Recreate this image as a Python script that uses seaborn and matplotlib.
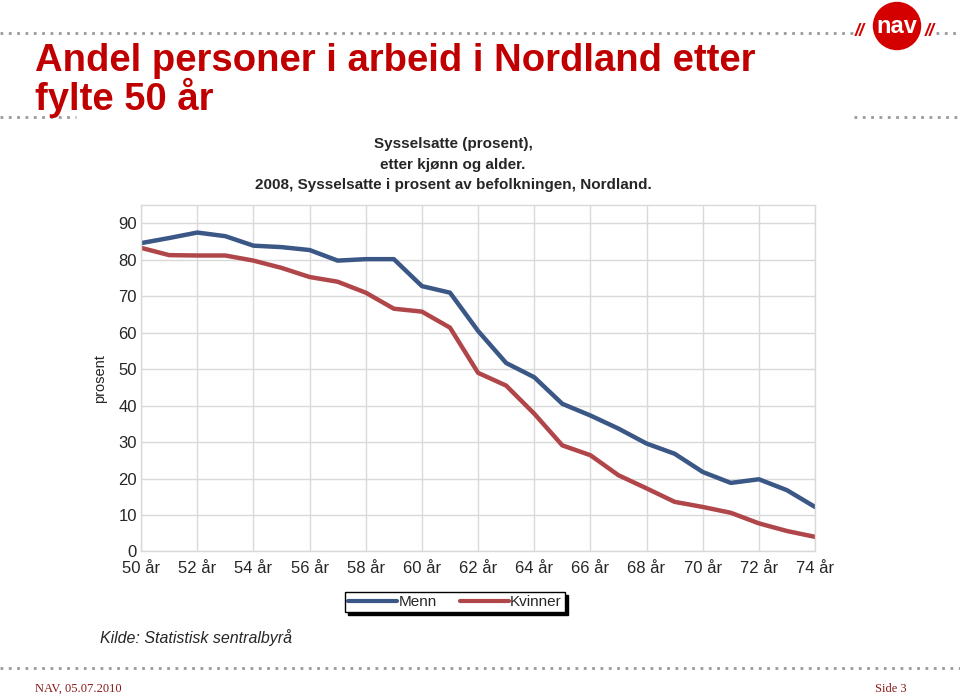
import numpy as np
import pandas as pd
import seaborn as sns
import matplotlib.pyplot as plt
from matplotlib.patches import Circle
from matplotlib.lines import Line2D

# data
alder = list(range(50, 75))
menn = [84.6, 86.0, 87.5, 86.5, 83.9, 83.5, 82.7, 79.8, 80.2, 80.2, 72.8, 71.0, 60.5,
        51.7, 47.8, 40.5, 37.3, 33.7, 29.6, 26.8, 21.8, 18.8, 19.8, 16.8, 12.2]
kvinner = [83.3, 81.3, 81.2, 81.2, 79.8, 77.8, 75.3, 74.0, 71.0, 66.6, 65.8, 61.4, 49.0,
           45.5, 37.8, 29.1, 26.4, 20.9, 17.3, 13.6, 12.2, 10.6, 7.7, 5.6, 4.0]
xticks = list(range(50, 75, 2))
xtick_labels = [f"{a} år" for a in xticks]

df = pd.DataFrame({"alder": alder * 2,
                   "prosent": menn + kvinner,
                   "kjonn": ["Menn"] * len(alder) + ["Kvinner"] * len(alder)})

farger = {"Menn": "#3b5786", "Kvinner": "#b04649"}

sns.set_style("white")
plt.rcParams['font.family'] = ['Liberation Sans', 'DejaVu Sans']

fig = plt.figure(figsize=(9.6, 6.98), dpi=100)
ax = fig.add_axes([0.147, 0.21, 0.702, 0.496])

sns.lineplot(data=df, x="alder", y="prosent", hue="kjonn", palette=farger,
             linewidth=3.2, ax=ax, legend=False)

ax.set_xlim(50, 74)
ax.set_ylim(0, 95)
ax.set_xticks(xticks)
ax.set_xticklabels(xtick_labels, fontsize=12)
ax.set_yticks(range(0, 91, 10))
ax.set_yticklabels([str(v) for v in range(0, 91, 10)], fontsize=12)
ax.tick_params(axis='x', length=0, pad=7)
ax.tick_params(axis='y', length=0, pad=3)
ax.set_xlabel("")
ax.set_ylabel("prosent", fontsize=10.5, labelpad=8)
ax.grid(True, color="#d9d9d9", linewidth=1)
for s in ax.spines.values():
    s.set_color("#d9d9d9")
    s.set_linewidth(1)

# chart subtitle
fig.text(0.472, 0.764, "Sysselsatte (prosent),\netter kjønn og alder.\n2008, Sysselsatte i prosent av befolkningen, Nordland.",
         ha="center", va="center", fontsize=11, fontweight="bold", linespacing=1.6)

# legend
handles = [Line2D([], [], color=farger["Menn"], linewidth=3),
           Line2D([], [], color=farger["Kvinner"], linewidth=3)]
leg = fig.legend(handles, ["Menn", "Kvinner"], ncol=2, loc="center",
                 bbox_to_anchor=(0.474, 0.137), frameon=True, shadow={'color': 'black', 'alpha': 1},
                 fancybox=False, fontsize=11, handlelength=3.2, handletextpad=0.1,
                 columnspacing=1.5, borderpad=0.2)
leg.get_frame().set_edgecolor("black")
leg.get_frame().set_linewidth(1)

fig.text(0.104, 0.087, "Kilde: Statistisk sentralbyrå", fontsize=11.5, style="italic",
         ha="left", va="center")

# slide title
fig.text(0.036, 0.885, "Andel personer i arbeid i Nordland etter\nfylte 50 år", color="#c00000",
         fontsize=27.5, fontweight="bold", ha="left", va="center", linespacing=0.98)

# dotted rules
dots = dict(color="#999999", linestyle=(0, (1, 2)), linewidth=2)
fig.add_artist(Line2D([0, 0.89], [0.953, 0.953], **dots))
fig.add_artist(Line2D([0.975, 1], [0.953, 0.953], **dots))
fig.add_artist(Line2D([0, 0.079], [0.832, 0.832], **dots))
fig.add_artist(Line2D([0.89, 1], [0.832, 0.832], **dots))
fig.add_artist(Line2D([0, 1], [0.043, 0.043], **dots))

# logo
fig.add_artist(Circle((8.97, 6.98 - 0.26), 0.235, transform=fig.dpi_scale_trans,
                      color="#d40000", zorder=5))
fig.text(0.934, 0.962, "nav", color="white", fontsize=17, fontweight="bold", ha="center",
         va="center", zorder=6)
fig.text(0.896, 0.955, "//", color="#d40000", fontsize=13, fontweight="bold", style="italic",
         ha="center", va="center")
fig.text(0.968, 0.955, "//", color="#d40000", fontsize=13, fontweight="bold", style="italic",
         ha="center", va="center")

# footer
fig.text(0.036, 0.013, "NAV, 05.07.2010", color="#8b1a1a", fontsize=9,
         family=['Liberation Serif'], ha="left", va="center")
fig.text(0.911, 0.013, "Side 3", color="#8b1a1a", fontsize=9,
         family=['Liberation Serif'], ha="left", va="center")

fig.savefig("out.png", dpi=100)
